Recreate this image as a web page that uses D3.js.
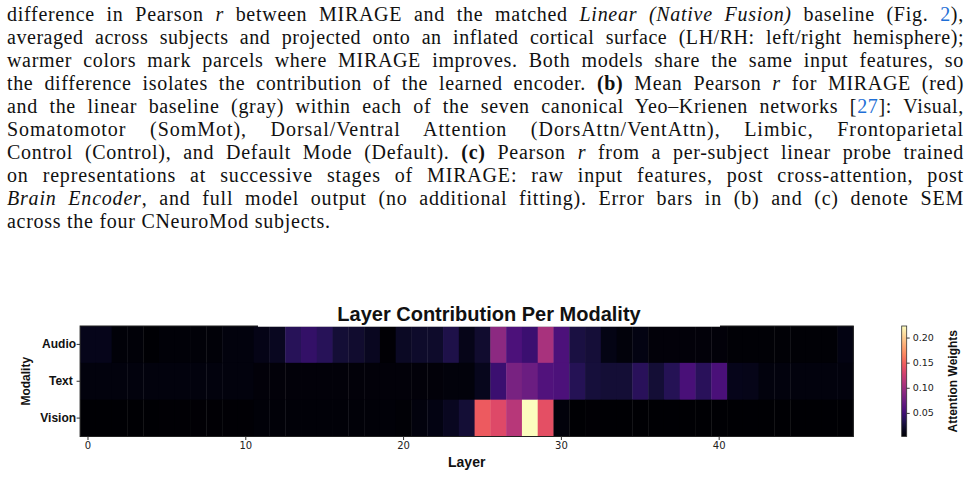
<!DOCTYPE html>
<html><head><meta charset="utf-8">
<script src="https://cdn.jsdelivr.net/npm/d3@7"></script>
<style>
html,body{margin:0;padding:0;background:#fff;width:976px;height:499px;overflow:hidden;}
svg{position:absolute;left:0;top:0;}
</style></head>
<body>
<svg id="page" width="976" height="499"></svg>
<script>
// ---------- DATA ----------
const layers = [0,1,2,3,4,5,6,7,8,9,10,11,12,13,14,15,16,17,18,19,20,21,22,23,24,25,26,27,28,29,30,31,32,33,34,35,36,37,38,39,40,41,42,43,44,45,46,47,48];
const modalities = ["Audio", "Text ", "Vision"];
const audioWeights = [0.014,0.014,0.006,0.006,0.003,0.006,0.006,0.006,0.006,0.009,0.009,0.012,0.016,0.037,0.043,0.037,0.025,0.022,0.016,0.004,0.018,0.021,0.021,0.032,0.013,0.022,0.091,0.056,0.047,0.106,0.056,0.029,0.026,0.011,0.008,0.010,0.007,0.007,0.007,0.007,0.007,0.005,0.005,0.005,0.005,0.005,0.005,0.005,0.010];
const textWeights  = [0.009,0.009,0.009,0.009,0.009,0.009,0.009,0.009,0.009,0.009,0.009,0.007,0.007,0.007,0.007,0.007,0.007,0.007,0.007,0.007,0.007,0.007,0.007,0.008,0.008,0.015,0.047,0.080,0.073,0.058,0.056,0.036,0.027,0.025,0.025,0.038,0.025,0.036,0.054,0.038,0.055,0.014,0.013,0.009,0.009,0.009,0.009,0.009,0.009];
const visionWeights= [0.003,0.003,0.003,0.003,0.003,0.004,0.004,0.004,0.004,0.004,0.004,0.006,0.006,0.006,0.006,0.006,0.006,0.006,0.006,0.006,0.005,0.009,0.010,0.016,0.025,0.146,0.135,0.113,0.223,0.139,0.008,0.003,0.004,0.003,0.003,0.003,0.003,0.003,0.003,0.003,0.003,0.003,0.003,0.003,0.003,0.003,0.003,0.003,0.003];
const xTickValues = [0,10,20,30,40];
const colorbarTicks = [0.05,0.10,0.15,0.20];
const chartTitle = "Layer Contribution Per Modality";
const xLabel = "Layer", yLabel = "Modality", cbLabel = "Attention Weights";

// caption text lines (n = normal, i = italic, b = bold, l = link)
const captionLines = [
  [["difference in Pearson ","n"],["r","i"],[" between MIRAGE and the matched ","n"],["Linear (Native Fusion)","i"],[" baseline (Fig. ","n"],["2","l"],["),","n"]],
  [["averaged across subjects and projected onto an inflated cortical surface (LH/RH: left/right hemisphere);","n"]],
  [["warmer colors mark parcels where MIRAGE improves. Both models share the same input features, so","n"]],
  [["the difference isolates the contribution of the learned encoder. ","n"],["(b)","b"],[" Mean Pearson ","n"],["r","i"],[" for MIRAGE (red)","n"]],
  [["and the linear baseline (gray) within each of the seven canonical Yeo–Krienen networks [","n"],["27","l"],["]: Visual,","n"]],
  [["Somatomotor (SomMot), Dorsal/Ventral Attention (DorsAttn/VentAttn), Limbic, Frontoparietal","n"]],
  [["Control (Control), and Default Mode (Default). ","n"],["(c)","b"],[" Pearson ","n"],["r","i"],[" from a per-subject linear probe trained","n"]],
  [["on representations at successive stages of MIRAGE: raw input features, post cross-attention, post","n"]],
  [["Brain Encoder","i"],[", and full model output (no additional fitting). Error bars in (b) and (c) denote SEM","n"]],
  [["across the four CNeuroMod subjects.","n"]]
];

// ---------- CAPTION ----------
const svg = d3.select("#page");
const textLeft = 7, textWidth = 957, firstBaseline = 20.5, lineStep = 23.1;
const cap = svg.append("g").attr("font-family", "'Liberation Serif','Times New Roman',serif")
  .attr("font-size", 20).attr("fill", "#111");
const lsList = [];
captionLines.forEach((segs, i) => {
  const t = cap.append("text").attr("x", textLeft).attr("y", firstBaseline + i * lineStep)
    .style("white-space", "pre");
  segs.forEach(([s, st]) => {
    const ts = t.append("tspan").text(s);
    if (st === "i") ts.attr("font-style", "italic");
    if (st === "b") ts.attr("font-weight", "bold");
    if (st === "l") ts.attr("fill", "#1f6fd6");
  });
  const full = segs.map(d => d[0]).join("");
  if (i < captionLines.length - 1) {
    const spaces = (full.match(/ /g) || []).length;
    const w = t.node().getComputedTextLength();
    const ls = (textWidth - w) * 0.45 / full.length;
    lsList.push(ls);
    t.style("letter-spacing", ls + "px");
    const w2 = t.node().getComputedTextLength();
    if (spaces > 0) t.style("word-spacing", ((textWidth - w2) / spaces) + "px");
  } else {
    t.style("letter-spacing", d3.mean(lsList) + "px");
  }
});

// ---------- HEATMAP ----------
const rows = [audioWeights, textWeights, visionWeights];
const cells = [];
modalities.forEach((m, r) => layers.forEach((l, c) => cells.push({m, l, v: rows[r][c]})));
const extent = d3.extent(cells, d => d.v);

const hmLeft = 80.1, hmRight = 853.3, hmTop = 326, hmBottom = 436.5;
const x = d3.scaleBand().domain(layers).range([hmLeft, hmRight]).padding(0);
const y = d3.scaleBand().domain(modalities).range([hmTop, hmBottom]).padding(0);
const color = d3.scaleSequential(d3.interpolateMagma).domain(extent);

const hm = svg.append("g");
hm.selectAll("rect.cell").data(cells).join("rect").attr("class", "cell")
  .attr("x", d => x(d.l)).attr("y", d => y(d.m))
  .attr("width", x.bandwidth() + 0.4).attr("height", y.bandwidth() + 0.4)
  .attr("fill", d => color(d.v));
hm.append("rect").attr("x", hmLeft).attr("y", hmTop).attr("width", hmRight - hmLeft).attr("height", hmBottom - hmTop)
  .attr("fill", "none").attr("stroke", "#222").attr("stroke-width", 1);
// title background box covering part of the top spine
hm.append("rect").attr("x", 258).attr("y", 318).attr("width", 462).attr("height", 8.7).attr("fill", "#fff");

// x axis
const xAxis = svg.append("g").attr("transform", `translate(0,${hmBottom})`)
  .call(d3.axisBottom(x).tickValues(xTickValues).tickSize(3.5).tickPadding(1.5));
xAxis.select(".domain").remove();
xAxis.selectAll(".tick line").attr("stroke", "#333");
xAxis.selectAll(".tick text").attr("font-family", "'DejaVu Sans',sans-serif").attr("font-size", 10).attr("fill", "#222");

// y axis
const yAxis = svg.append("g").attr("transform", `translate(${hmLeft},0)`)
  .call(d3.axisLeft(y).tickSize(3.5).tickPadding(0.5));
yAxis.select(".domain").remove();
yAxis.selectAll(".tick line").attr("stroke", "#333");
yAxis.selectAll(".tick text").attr("font-family", "'Liberation Sans',Arial,sans-serif")
  .attr("font-weight", "bold").attr("font-size", 12).attr("fill", "#111").style("white-space", "pre");

// labels
const lab = svg.append("g").attr("font-family", "'Liberation Sans',Arial,sans-serif").attr("font-weight", "bold").attr("fill", "#111");
lab.append("text").attr("x", 489).attr("y", 321).attr("text-anchor", "middle").attr("font-size", 20).text(chartTitle);
lab.append("text").attr("x", (hmLeft + hmRight) / 2).attr("y", 467).attr("text-anchor", "middle").attr("font-size", 14).text(xLabel);
lab.append("text").attr("transform", `translate(30,${(hmTop + hmBottom) / 2}) rotate(-90)`).attr("text-anchor", "middle").attr("font-size", 12).text(yLabel);
lab.append("text").attr("transform", `translate(957,${(hmTop + hmBottom) / 2}) rotate(-90)`).attr("text-anchor", "middle").attr("font-size", 12).text(cbLabel);

// ---------- COLORBAR ----------
const cbX = 901.7, cbW = 5;
const defs = svg.append("defs");
const grad = defs.append("linearGradient").attr("id", "cbgrad").attr("x1", 0).attr("y1", 1).attr("x2", 0).attr("y2", 0);
d3.range(0, 1.0001, 0.05).forEach(t => grad.append("stop").attr("offset", t).attr("stop-color", d3.interpolateMagma(t)));
svg.append("rect").attr("x", cbX).attr("y", hmTop).attr("width", cbW).attr("height", hmBottom - hmTop)
  .attr("fill", "url(#cbgrad)").attr("stroke", "#333").attr("stroke-width", 0.8);
const cy = d3.scaleLinear().domain(extent).range([hmBottom, hmTop]);
const cbAxis = svg.append("g").attr("transform", `translate(${cbX + cbW},0)`)
  .call(d3.axisRight(cy).tickValues(colorbarTicks).tickFormat(d3.format(".2f")).tickSize(3).tickPadding(3));
cbAxis.select(".domain").remove();
cbAxis.selectAll(".tick line").attr("stroke", "#333");
cbAxis.selectAll(".tick text").attr("font-family", "'DejaVu Sans',sans-serif").attr("font-size", 9.5).attr("fill", "#222");
</script>
</body></html>
